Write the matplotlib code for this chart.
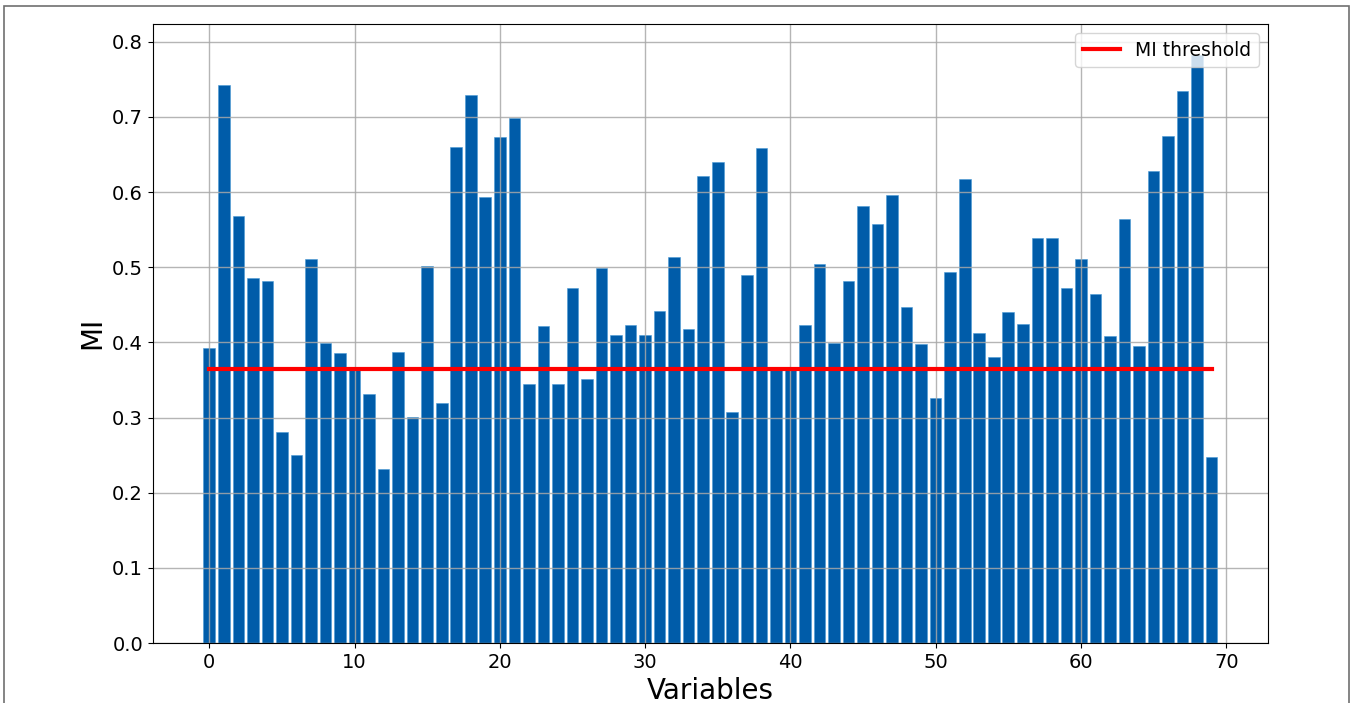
import matplotlib
matplotlib.use("Agg")
import matplotlib.pyplot as plt
import numpy as np
from matplotlib.patches import Rectangle

# Mutual information score per input variable
mi_scores = [
    0.392, 0.743, 0.568, 0.486, 0.482, 0.281, 0.250, 0.511, 0.399, 0.386,
    0.364, 0.331, 0.231, 0.387, 0.301, 0.501, 0.320, 0.660, 0.729, 0.593,
    0.673, 0.699, 0.345, 0.422, 0.344, 0.472, 0.351, 0.499, 0.410, 0.423,
    0.410, 0.442, 0.514, 0.418, 0.621, 0.640, 0.308, 0.490, 0.658, 0.363,
    0.363, 0.423, 0.504, 0.399, 0.482, 0.582, 0.557, 0.596, 0.447, 0.398,
    0.326, 0.494, 0.618, 0.412, 0.381, 0.441, 0.424, 0.539, 0.539, 0.473,
    0.511, 0.464, 0.409, 0.564, 0.395, 0.628, 0.674, 0.734, 0.782, 0.247,
]
variables = np.arange(len(mi_scores))
MI_THRESHOLD = 0.364

fig = plt.figure(figsize=(13.52, 7.03), dpi=100)
ax = fig.add_axes([0.113, 0.0853, 0.825, 0.881])

ax.bar(variables, mi_scores, width=0.8, color="#005ca9",
       edgecolor="#4a9ad6", linewidth=0.4)
ax.plot([variables[0], variables[-1]], [MI_THRESHOLD, MI_THRESHOLD],
        color="red", linewidth=3, label="MI threshold")

ax.set_ylim(0, 0.824)
ax.grid(True, color="#a8a8a8", linewidth=1.0, alpha=0.85)
ax.set_xticks(range(0, 71, 10))
ax.tick_params(labelsize=14)
ax.set_xlabel("Variables", fontsize=20)
ax.set_ylabel("MI", fontsize=20)
ax.legend(loc="upper right", fontsize=13.5)

# thin frame around the figure
fig.patches.append(Rectangle((4 / 1352, -0.01), 1345 / 1352, 1 - 6 / 703 + 0.01,
                             transform=fig.transFigure, fill=False,
                             edgecolor="#707070", linewidth=1.2))

fig.savefig("out.png", dpi=100)
